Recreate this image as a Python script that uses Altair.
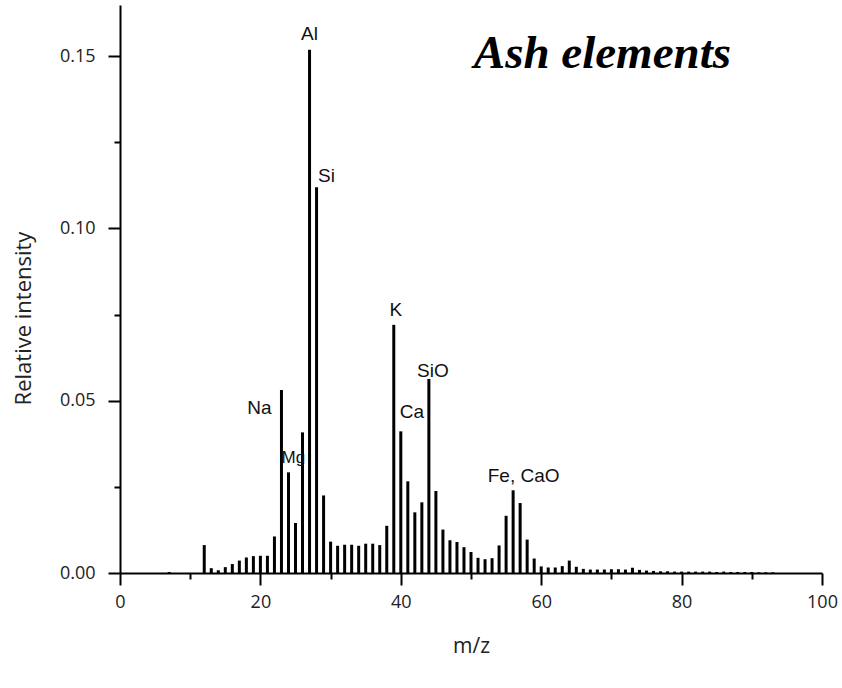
import altair as alt
import pandas as pd

# ---- data ----
mz = [7] + list(range(12, 94))
intensity = [
    0.0003,                                                   # 7
    0.0081, 0.0014, 0.0008, 0.0017, 0.0026, 0.0036, 0.0045,  # 12-18
    0.0049, 0.0050, 0.0050, 0.0106, 0.0531, 0.0292, 0.0145,  # 19-25
    0.0408, 0.1518, 0.1119, 0.0225, 0.0091, 0.0079, 0.0082,  # 26-32
    0.0082, 0.0079, 0.0085, 0.0085, 0.0081, 0.0137, 0.0720,  # 33-39
    0.0411, 0.0266, 0.0176, 0.0205, 0.0563, 0.0238, 0.0126,  # 40-46
    0.0095, 0.0090, 0.0075, 0.0061, 0.0044, 0.0040, 0.0043,  # 47-53
    0.0080, 0.0166, 0.0240, 0.0203, 0.0097, 0.0042, 0.0019,  # 54-60
    0.0016, 0.0016, 0.0020, 0.0036, 0.0018, 0.0012, 0.0010,  # 61-67
    0.0010, 0.0010, 0.0011, 0.0011, 0.0010, 0.0015, 0.0009,  # 68-74
    0.0007, 0.0006, 0.0005, 0.0005, 0.0004, 0.0004, 0.0004,  # 75-81
    0.0004, 0.0004, 0.0004, 0.0003, 0.0004, 0.0003, 0.0003,  # 82-88
    0.0003, 0.0003, 0.0002, 0.0002, 0.0002,                  # 89-93
]
peak_labels = ["Al", "Si", "Na", "Mg", "K", "Ca", "SiO", "Fe, CaO"]
peak_mz = [27, 28, 23, 24, 39, 40, 44, 56]

x_major = [0, 20, 40, 60, 80, 100]
x_minor = [10, 30, 50, 70, 90]
y_major = [0.0, 0.05, 0.10, 0.15]
y_minor = [0.025, 0.075, 0.125]

# ---- tables ----
df = pd.DataFrame({"mz": mz, "intensity": intensity})
lookup = dict(zip(mz, intensity))
lab_df = pd.DataFrame({
    "label": peak_labels,
    "mz": peak_mz,
    "intensity": [lookup[m] for m in peak_mz],
})

# label styling (offsets in px from bar top)
label_style = {
    "Al": dict(align="center", dx=0, dy=-10, fontSize=19),
    "Si": dict(align="left", dx=1.5, dy=-5, fontSize=19),
    "Na": dict(align="right", dx=-10, dy=24, fontSize=19),
    "Mg": dict(align="left", dx=-7, dy=-9, fontSize=17),
    "K": dict(align="center", dx=2, dy=-9, fontSize=19),
    "Ca": dict(align="left", dx=-1, dy=-13.5, fontSize=19),
    "SiO": dict(align="center", dx=4, dy=-2, fontSize=19),
    "Fe, CaO": dict(align="center", dx=10.5, dy=-8, fontSize=19),
}

x_scale = alt.Scale(domain=[0, 100], nice=False, zero=False, padding=0)
y_scale = alt.Scale(domain=[0, 0.1648], nice=False, zero=True, padding=0)

AXIS_FONT = "Open Sans"
AXIS_COLOR = "#222222"

x_axis = alt.Axis(
    orient="bottom", values=x_major, format="d", grid=False, labelFlush=False,
    domainColor="black", domainWidth=2, tickColor="black", tickWidth=2,
    tickSize=12, labelFont=AXIS_FONT, labelFontSize=18, labelColor=AXIS_COLOR,
    labelPadding=8, title="m/z", titleFont=AXIS_FONT, titleFontSize=21,
    titleFontWeight="normal", titleColor=AXIS_COLOR, titlePadding=24,
)
y_axis = alt.Axis(
    orient="left", values=y_major, format=".2f", grid=False, labelFlush=False,
    domainColor="black", domainWidth=2, tickColor="black", tickWidth=2,
    tickSize=12, labelFont=AXIS_FONT, labelFontSize=18, labelColor=AXIS_COLOR,
    labelPadding=13, title="Relative intensity", titleFont=AXIS_FONT,
    titleFontSize=22, titleFontWeight="normal", titleColor=AXIS_COLOR,
    titleX=-85, titleY=313,
)
x_axis_minor = alt.Axis(
    orient="bottom", values=x_minor, labels=False, domain=False, grid=False,
    tickColor="black", tickWidth=2, tickSize=6, title="",
)
y_axis_minor = alt.Axis(
    orient="left", values=y_minor, labels=False, domain=False, grid=False,
    tickColor="black", tickWidth=2, tickSize=6, title="",
)

bars = alt.Chart(df).mark_bar(color="black", size=3).encode(
    x=alt.X("mz:Q", scale=x_scale, axis=x_axis),
    y=alt.Y("intensity:Q", scale=y_scale, axis=y_axis),
)

minor = alt.Chart(df).mark_point(opacity=0).encode(
    x=alt.X("mz:Q", scale=x_scale, axis=x_axis_minor),
    y=alt.Y("intensity:Q", scale=y_scale, axis=y_axis_minor),
)

texts = []
for name in peak_labels:
    st = label_style[name]
    t = alt.Chart(lab_df[lab_df["label"] == name]).mark_text(
        font="Liberation Sans", color="#111111", baseline="alphabetic", **st
    ).encode(
        x=alt.X("mz:Q", scale=x_scale, axis=None),
        y=alt.Y("intensity:Q", scale=y_scale, axis=None),
        text="label:N",
    )
    texts.append(t)

chart = alt.layer(bars, minor, *texts).resolve_axis(
    x="independent", y="independent"
).properties(
    width=702,
    height=568,
    title=alt.TitleParams(
        "Ash elements", font="Liberation Serif", fontSize=47,
        fontStyle="italic", fontWeight="bold", color="black",
        anchor="end", frame="group", baseline="alphabetic",
        offset=0, dx=-91, dy=110,
    ),
    padding={"left": 120, "top": 5, "right": 20, "bottom": 115},
    autosize=alt.AutoSizeParams(type="none"),
    background="white",
).configure_view(stroke=None)

chart.save("out.html", embed_options={"renderer": "svg", "actions": False})
